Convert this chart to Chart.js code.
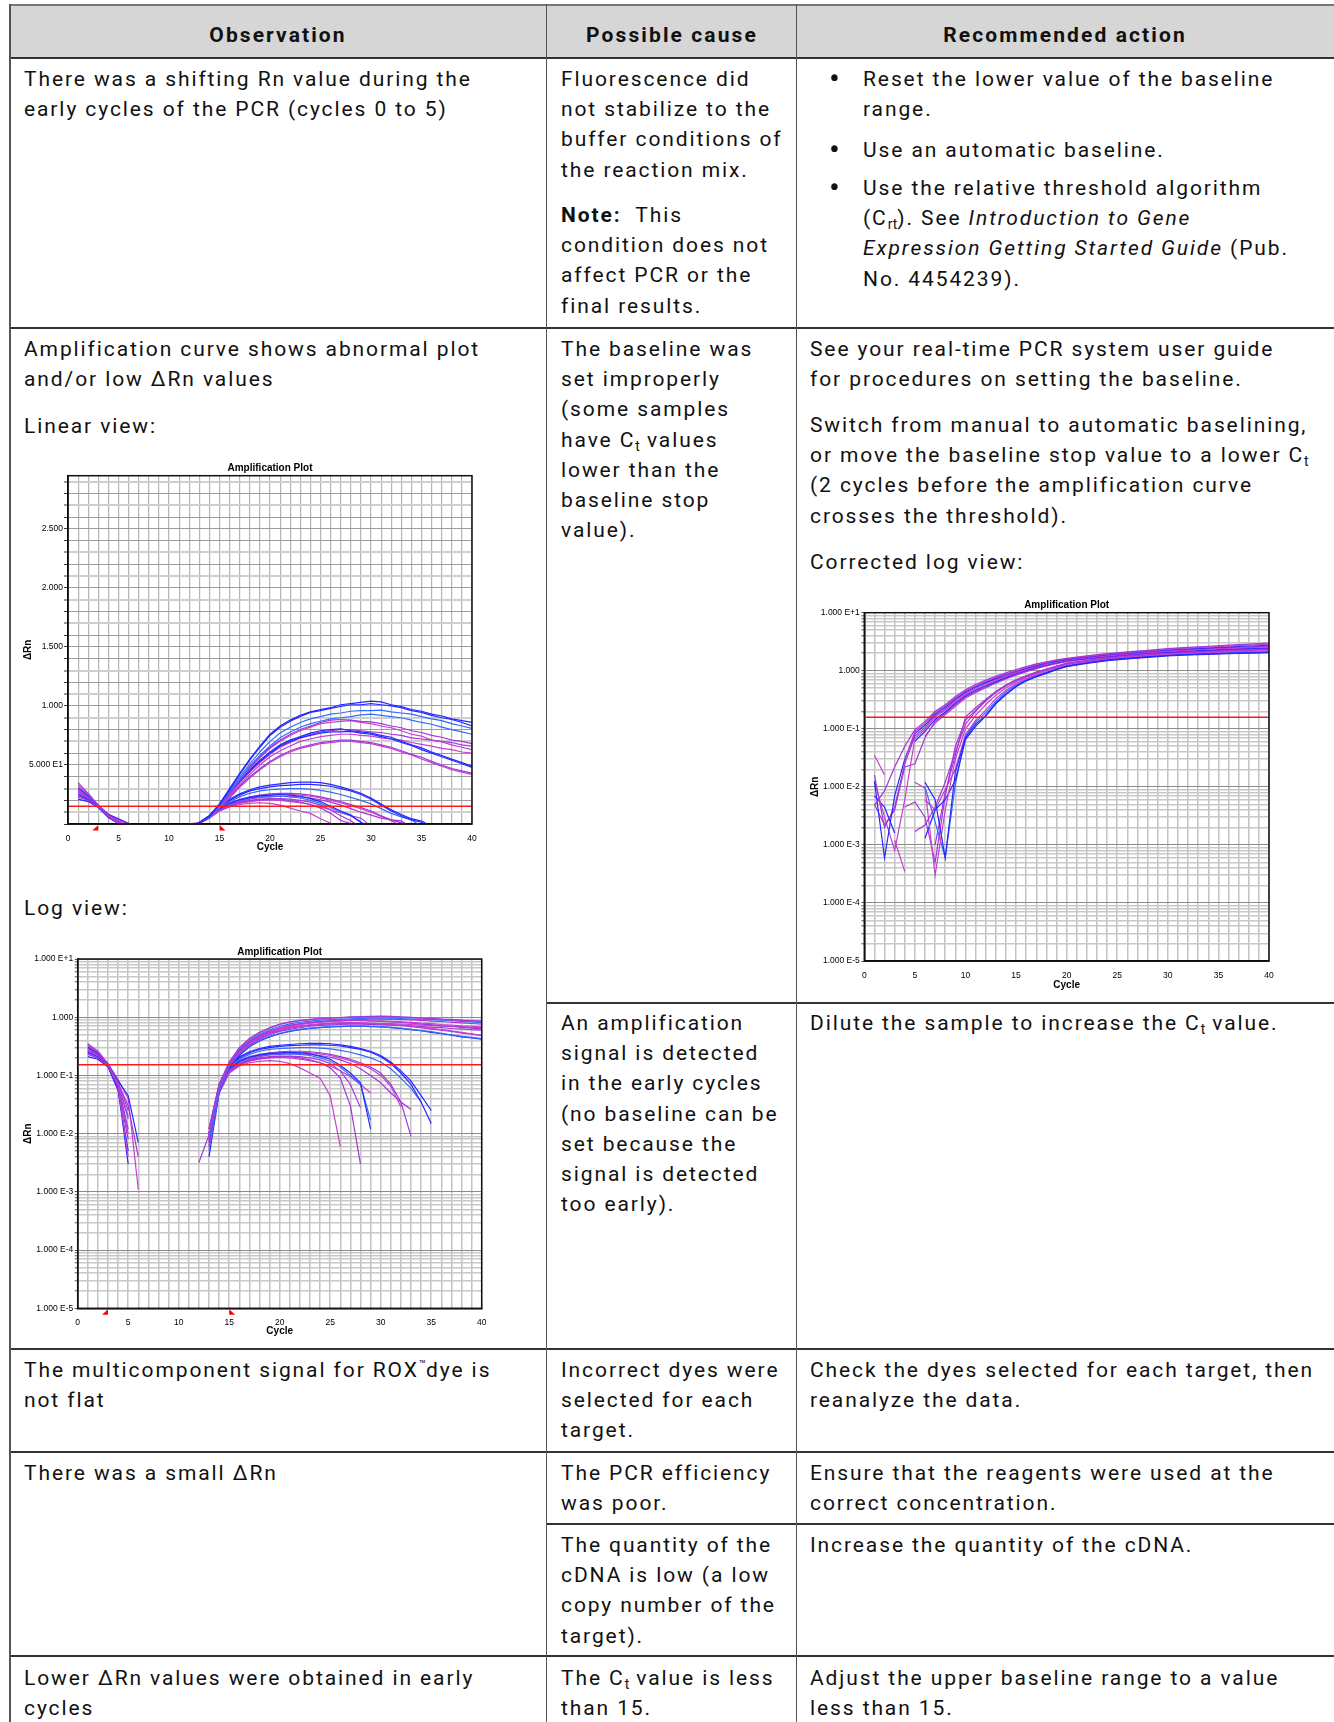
<!DOCTYPE html>
<html><head><meta charset="utf-8">
<script src="https://cdn.jsdelivr.net/npm/chart.js@4.4.1/dist/chart.umd.min.js"></script>
<style>
html,body{margin:0;padding:0;background:#fff;}
body{width:1334px;height:1722px;position:relative;overflow:hidden;font-family:Roboto,"Noto Sans",sans-serif;color:#111;}
.t{position:absolute;font-size:21px;line-height:30.2px;white-space:nowrap;letter-spacing:1.9px;}
.bu{position:absolute;font-size:32px;line-height:30.2px;left:829px;}
.hd{position:absolute;font-size:21px;line-height:30px;font-weight:bold;white-space:nowrap;transform:translateX(-50%);letter-spacing:2.1px;top:20px;}
.ln{position:absolute;background:#333;}
.vl{position:absolute;background:#555;width:1px;top:4px;height:1718px;}
sub{font-size:0.66em;vertical-align:-0.32em;line-height:0;letter-spacing:0;}
sup{font-size:0.55em;vertical-align:0.8em;line-height:0;letter-spacing:0;}
.cv{position:absolute;}
</style>
</head><body>
<!-- header background -->
<div style="position:absolute;left:10px;top:5px;width:1324px;height:53px;background:#d6d6d6;"></div>
<!-- horizontal rules -->
<div class="ln" style="left:10px;top:4px;width:1324px;height:2px;background:#777;"></div>
<div class="ln" style="left:10px;top:57px;width:1324px;height:2px;"></div>
<div class="ln" style="left:10px;top:327px;width:1324px;height:2px;"></div>
<div class="ln" style="left:547px;top:1002px;width:787px;height:2px;"></div>
<div class="ln" style="left:10px;top:1348px;width:1324px;height:2px;"></div>
<div class="ln" style="left:10px;top:1451px;width:1324px;height:2px;"></div>
<div class="ln" style="left:547px;top:1523px;width:787px;height:2px;"></div>
<div class="ln" style="left:10px;top:1655px;width:1324px;height:2px;"></div>
<!-- vertical rules -->
<div class="vl" style="left:9px;width:1.5px;"></div>
<div class="vl" style="left:546px;"></div>
<div class="vl" style="left:796px;"></div>

<!-- header -->
<div class="hd" style="left:278px;">Observation</div>
<div class="hd" style="left:672px;">Possible cause</div>
<div class="hd" style="left:1065px;">Recommended action</div>

<!-- row 1 -->
<div class="t" style="left:24px;top:64px;">There was a shifting Rn value during the<br>early cycles of the PCR (cycles 0 to 5)</div>
<div class="t" style="left:561px;top:64px;">Fluorescence did<br>not stabilize to the<br>buffer conditions of<br>the reaction mix.</div>
<div class="t" style="left:561px;top:200px;"><b>Note:</b>&nbsp; This<br>condition does not<br>affect PCR or the<br>final results.</div>
<div class="bu" style="top:63px;">•</div>
<div class="t" style="left:863px;top:64px;">Reset the lower value of the baseline<br>range.</div>
<div class="bu" style="top:134px;">•</div>
<div class="t" style="left:863px;top:135px;">Use an automatic baseline.</div>
<div class="bu" style="top:172px;">•</div>
<div class="t" style="left:863px;top:173px;">Use the relative threshold algorithm<br>(C<sub>rt</sub>). See <i>Introduction to Gene</i><br><i>Expression Getting Started Guide</i> (Pub.<br>No. 4454239).</div>

<!-- row 2 -->
<div class="t" style="left:24px;top:334px;">Amplification curve shows abnormal plot<br>and/or low ΔRn values</div>
<div class="t" style="left:24px;top:411px;">Linear view:</div>
<div class="t" style="left:24px;top:893px;">Log view:</div>
<div class="t" style="left:561px;top:334px;">The baseline was<br>set improperly<br>(some samples<br>have C<sub>t</sub> values<br>lower than the<br>baseline stop<br>value).</div>
<div class="t" style="left:810px;top:334px;">See your real-time PCR system user guide<br>for procedures on setting the baseline.</div>
<div class="t" style="left:810px;top:410px;">Switch from manual to automatic baselining,<br>or move the baseline stop value to a lower C<sub>t</sub><br>(2 cycles before the amplification curve<br>crosses the threshold).</div>
<div class="t" style="left:810px;top:547px;">Corrected log view:</div>
<div class="t" style="left:561px;top:1008px;">An amplification<br>signal is detected<br>in the early cycles<br>(no baseline can be<br>set because the<br>signal is detected<br>too early).</div>
<div class="t" style="left:810px;top:1008px;">Dilute the sample to increase the C<sub>t</sub> value.</div>

<!-- row 3 -->
<div class="t" style="left:24px;top:1355px;">The multicomponent signal for ROX<sup>™</sup>dye is<br>not flat</div>
<div class="t" style="left:561px;top:1355px;">Incorrect dyes were<br>selected for each<br>target.</div>
<div class="t" style="left:810px;top:1355px;">Check the dyes selected for each target, then<br>reanalyze the data.</div>

<!-- row 4 -->
<div class="t" style="left:24px;top:1458px;">There was a small ΔRn</div>
<div class="t" style="left:561px;top:1458px;">The PCR efficiency<br>was poor.</div>
<div class="t" style="left:810px;top:1458px;">Ensure that the reagents were used at the<br>correct concentration.</div>
<div class="t" style="left:561px;top:1530px;">The quantity of the<br>cDNA is low (a low<br>copy number of the<br>target).</div>
<div class="t" style="left:810px;top:1530px;">Increase the quantity of the cDNA.</div>

<!-- row 5 -->
<div class="t" style="left:24px;top:1663px;">Lower ΔRn values were obtained in early<br>cycles</div>
<div class="t" style="left:561px;top:1663px;">The C<sub>t</sub> value is less<br>than 15.</div>
<div class="t" style="left:810px;top:1663px;">Adjust the upper baseline range to a value<br>less than 15.</div>

<!-- charts -->
<div class="cv" style="left:10px;top:455px;"><canvas id="linChart" width="478" height="400"></canvas></div>
<div class="cv" style="left:10px;top:940px;"><canvas id="logChart" width="488" height="400"></canvas></div>
<div class="cv" style="left:800px;top:585px;"><canvas id="corChart" width="485" height="410"></canvas></div>

<script>
// ---------- axis labels ----------
const cycleLabels = [0, 5, 10, 15, 20, 25, 30, 35, 40];
const linTickValues = [0.5, 1, 1.5, 2, 2.5];
const linTickLabels = ['5.000 E1', '1.000', '1.500', '2.000', '2.500'];
const logDecades = [-5, -4, -3, -2, -1, 0, 1];
const logTickLabels = ['1.000 E-5', '1.000 E-4', '1.000 E-3', '1.000 E-2', '1.000 E-1', '1.000', '1.000 E+1'];
const baselineStart = 3;
const baselineStop = 15;
const thresholdLinear = 0.15;
const thresholdLog = 0.153;
const thresholdCorrected = 0.158;

// ---------- uncorrected run (linear + log views), ΔRn ----------
const earlyCycles = [1, 2, 3, 4, 5, 6, 7];
const earlyRn = [
  [0.35, 0.26, 0.16, 0.075, 0.03, 0.004, -0.03],
  [0.33, 0.25, 0.155, 0.07, 0.02, -0.02],
  [0.31, 0.24, 0.155, 0.08, 0.045, 0.007, -0.03],
  [0.29, 0.23, 0.15, 0.07, 0.012, -0.03],
  [0.27, 0.22, 0.15, 0.065, 0.004, -0.04],
  [0.25, 0.21, 0.15, 0.06, 0.003, -0.04],
  [0.23, 0.2, 0.145, 0.06, 0.008, -0.03],
  [0.21, 0.19, 0.14, 0.055, 0.005, -0.03],
  [0.3, 0.235, 0.16, 0.085, 0.04, 0.0011, -0.02],
  [0.28, 0.225, 0.155, 0.075, 0.025, -0.02],
  [0.26, 0.215, 0.15, 0.07, 0.018, -0.03],
  [0.24, 0.2, 0.145, 0.065, 0.01, -0.03]
];
const lateCycles = [12, 13, 14, 15, 16, 17, 18, 19, 20, 21, 22, 23, 24, 25, 26, 27, 28, 29, 30, 31, 32, 33, 34, 35, 36, 37, 38, 39, 40];
const lateRnHigh = [
  [-0.02, 0.012, 0.07, 0.17, 0.30, 0.43, 0.55, 0.66, 0.76, 0.83, 0.88, 0.92, 0.95, 0.97, 0.985, 1.01, 1.02, 1.03, 1.04, 1.035, 1.01, 0.995, 0.97, 0.955, 0.93, 0.915, 0.89, 0.875, 0.86],
  [-0.02, 0.01, 0.065, 0.165, 0.29, 0.42, 0.54, 0.65, 0.75, 0.82, 0.87, 0.91, 0.945, 0.96, 0.98, 0.995, 1.01, 1.01, 1.02, 1.01, 1.0, 0.985, 0.96, 0.945, 0.92, 0.9, 0.885, 0.86, 0.83],
  [-0.03, 0.008, 0.06, 0.16, 0.28, 0.40, 0.51, 0.61, 0.70, 0.77, 0.82, 0.86, 0.89, 0.91, 0.93, 0.94, 0.955, 0.96, 0.96, 0.965, 0.95, 0.94, 0.93, 0.91, 0.89, 0.875, 0.85, 0.83, 0.81],
  [-0.03, 0.007, 0.06, 0.155, 0.27, 0.38, 0.49, 0.58, 0.66, 0.73, 0.78, 0.82, 0.85, 0.87, 0.89, 0.90, 0.91, 0.925, 0.93, 0.92, 0.91, 0.90, 0.88, 0.86, 0.845, 0.82, 0.80, 0.78, 0.76],
  [-0.02, 0.009, 0.065, 0.16, 0.27, 0.38, 0.48, 0.57, 0.65, 0.71, 0.76, 0.80, 0.83, 0.86, 0.88, 0.885, 0.88, 0.87, 0.865, 0.85, 0.83, 0.815, 0.79, 0.775, 0.75, 0.735, 0.71, 0.70, 0.68],
  [-0.03, 0.006, 0.06, 0.155, 0.26, 0.37, 0.47, 0.56, 0.64, 0.70, 0.75, 0.79, 0.82, 0.85, 0.86, 0.87, 0.875, 0.86, 0.85, 0.83, 0.815, 0.79, 0.76, 0.745, 0.71, 0.695, 0.67, 0.65, 0.63],
  [-0.02, 0.01, 0.07, 0.165, 0.27, 0.37, 0.46, 0.54, 0.61, 0.67, 0.71, 0.74, 0.77, 0.79, 0.80, 0.805, 0.79, 0.78, 0.77, 0.75, 0.735, 0.70, 0.67, 0.645, 0.61, 0.58, 0.55, 0.52, 0.49],
  [-0.03, 0.008, 0.065, 0.16, 0.26, 0.36, 0.45, 0.53, 0.60, 0.66, 0.70, 0.73, 0.75, 0.77, 0.78, 0.78, 0.785, 0.77, 0.76, 0.74, 0.72, 0.69, 0.665, 0.63, 0.60, 0.57, 0.54, 0.51, 0.48],
  [-0.02, 0.008, 0.06, 0.15, 0.25, 0.35, 0.44, 0.52, 0.59, 0.65, 0.69, 0.73, 0.76, 0.78, 0.79, 0.80, 0.80, 0.79, 0.78, 0.775, 0.76, 0.75, 0.73, 0.72, 0.71, 0.70, 0.69, 0.67, 0.66],
  [0.0032, 0.0095, 0.055, 0.145, 0.24, 0.33, 0.42, 0.50, 0.57, 0.62, 0.66, 0.70, 0.72, 0.74, 0.75, 0.76, 0.76, 0.75, 0.745, 0.73, 0.72, 0.71, 0.69, 0.675, 0.66, 0.64, 0.63, 0.61, 0.60],
  [-0.03, 0.005, 0.05, 0.14, 0.23, 0.32, 0.40, 0.47, 0.53, 0.58, 0.62, 0.65, 0.67, 0.69, 0.70, 0.71, 0.71, 0.70, 0.69, 0.67, 0.65, 0.62, 0.59, 0.565, 0.53, 0.50, 0.47, 0.45, 0.43],
  [-0.04, 0.004, 0.05, 0.135, 0.22, 0.31, 0.39, 0.46, 0.52, 0.57, 0.61, 0.64, 0.66, 0.68, 0.69, 0.70, 0.70, 0.69, 0.68, 0.66, 0.64, 0.61, 0.585, 0.55, 0.52, 0.49, 0.46, 0.44, 0.42]
];
const lateRnLow = [
  [-0.02, 0.012, 0.07, 0.15, 0.21, 0.255, 0.29, 0.315, 0.33, 0.34, 0.35, 0.355, 0.355, 0.35, 0.335, 0.315, 0.29, 0.26, 0.22, 0.17, 0.12, 0.08, 0.045, 0.025, -0.02],
  [-0.02, 0.01, 0.065, 0.145, 0.2, 0.245, 0.28, 0.3, 0.315, 0.325, 0.33, 0.335, 0.335, 0.33, 0.32, 0.3, 0.28, 0.25, 0.21, 0.16, 0.11, 0.07, 0.035, 0.015, -0.03],
  [-0.03, 0.01, 0.065, 0.14, 0.19, 0.23, 0.26, 0.28, 0.29, 0.295, 0.3, 0.3, 0.295, 0.285, 0.27, 0.25, 0.225, 0.2, 0.17, 0.13, 0.09, 0.06, 0.035, -0.02],
  [-0.02, 0.01, 0.065, 0.13, 0.175, 0.205, 0.225, 0.24, 0.245, 0.25, 0.245, 0.235, 0.215, 0.19, 0.15, 0.11, 0.075, 0.012, -0.04],
  [-0.03, 0.008, 0.06, 0.125, 0.17, 0.2, 0.22, 0.23, 0.235, 0.235, 0.23, 0.22, 0.2, 0.175, 0.14, 0.1, 0.07, 0.017, -0.03],
  [-0.02, 0.01, 0.06, 0.13, 0.18, 0.21, 0.23, 0.245, 0.255, 0.26, 0.26, 0.255, 0.245, 0.23, 0.21, 0.19, 0.165, 0.14, 0.11, 0.07, 0.035, 0.009, -0.03],
  [-0.03, 0.007, 0.055, 0.125, 0.17, 0.2, 0.22, 0.235, 0.245, 0.25, 0.25, 0.245, 0.235, 0.22, 0.2, 0.18, 0.155, 0.13, 0.1, 0.065, 0.029, -0.02],
  [-0.02, 0.009, 0.06, 0.12, 0.16, 0.19, 0.21, 0.225, 0.23, 0.235, 0.235, 0.23, 0.22, 0.205, 0.185, 0.16, 0.13, 0.1, 0.075, 0.05, 0.035, 0.026, -0.03],
  [-0.03, 0.006, 0.05, 0.11, 0.145, 0.165, 0.175, 0.18, 0.175, 0.16, 0.135, 0.11, 0.09, 0.045, 0.006, -0.04],
  [-0.02, 0.008, 0.055, 0.115, 0.155, 0.18, 0.195, 0.205, 0.21, 0.21, 0.2, 0.185, 0.165, 0.135, 0.09, 0.03, 0.003, -0.04],
  [-0.03, 0.007, 0.05, 0.11, 0.15, 0.175, 0.19, 0.2, 0.205, 0.2, 0.19, 0.18, 0.165, 0.145, 0.12, 0.095, 0.07, 0.05, -0.02],
  [-0.02, 0.009, 0.055, 0.12, 0.16, 0.185, 0.2, 0.21, 0.215, 0.215, 0.21, 0.2, 0.185, 0.16, 0.12, 0.07, 0.028, -0.03]
];

// ---------- corrected run (log view), ΔRn ----------
const corCycles = [1, 2, 3, 4, 5, 6, 7, 8, 9, 10, 11, 12, 13, 14, 15, 16, 17, 18, 19, 20, 22, 24, 26, 28, 30, 32, 34, 36, 38, 40];
const corRnEarly = [
  [0.0048, 0.0085, 0.022, 0.05, 0.097, 0.134, 0.2, 0.26, 0.36, 0.47, 0.58, 0.69, 0.8, 0.92, 1.05, 1.18, 1.31, 1.43, 1.54, 1.64, 1.8, 1.98, 2.12, 2.25, 2.4, 2.52, 2.64, 2.76, 2.88, 3.0],
  [0.035, 0.016, null, 0.028, 0.09, 0.125, 0.19, 0.247, 0.34, 0.45, 0.55, 0.66, 0.77, 0.88, 1.0, 1.13, 1.27, 1.39, 1.5, 1.61, 1.77, 1.94, 2.07, 2.2, 2.33, 2.45, 2.56, 2.66, 2.76, 2.86],
  [0.0125, 0.0006, 0.007, 0.03, 0.083, 0.116, 0.18, 0.235, 0.325, 0.43, 0.53, 0.63, 0.74, 0.86, 0.98, 1.11, 1.24, 1.36, 1.47, 1.58, 1.73, 1.89, 2.02, 2.15, 2.28, 2.38, 2.48, 2.58, 2.67, 2.75],
  [0.016, 0.002, 0.0045, 0.025, 0.075, 0.106, 0.17, 0.22, 0.31, 0.41, 0.51, 0.61, 0.71, 0.83, 0.95, 1.08, 1.2, 1.32, 1.44, 1.55, 1.7, 1.85, 1.98, 2.1, 2.22, 2.32, 2.42, 2.5, 2.58, 2.66],
  [0.0125, 0.003, 0.0008, 0.006, 0.068, 0.098, 0.16, 0.21, 0.29, 0.39, 0.48, 0.58, 0.68, 0.8, 0.92, 1.04, 1.17, 1.29, 1.41, 1.52, 1.67, 1.8, 1.93, 2.05, 2.16, 2.26, 2.35, 2.43, 2.5, 2.57],
  [0.007, 0.0045, 0.0016, null, 0.061, 0.09, 0.145, 0.195, 0.275, 0.37, 0.46, 0.55, 0.65, 0.77, 0.89, 1.01, 1.14, 1.26, 1.38, 1.49, 1.63, 1.76, 1.89, 2.0, 2.1, 2.19, 2.27, 2.35, 2.42, 2.48],
  [0.005, 0.0022, 0.004, 0.022, 0.025, 0.07, 0.135, 0.185, 0.26, 0.355, 0.44, 0.52, 0.62, 0.74, 0.86, 0.98, 1.11, 1.23, 1.35, 1.46, 1.6, 1.72, 1.84, 1.95, 2.04, 2.12, 2.2, 2.26, 2.32, 2.38],
  [null, null, 0.0012, 0.00035, null, 0.074, 0.126, 0.175, 0.245, 0.34, 0.42, 0.51, 0.61, 0.72, 0.84, 0.96, 1.09, 1.21, 1.33, 1.44, 1.58, 1.7, 1.82, 1.92, 2.0, 2.07, 2.14, 2.2, 2.25, 2.3]
];
const corRnLate = [
  [null, null, null, null, null, 0.012, 0.006, 0.0006, 0.018, 0.07, 0.12, 0.17, 0.28, 0.4, 0.54, 0.68, 0.8, 0.92, 1.06, 1.2, 1.36, 1.52, 1.63, 1.73, 1.83, 1.9, 1.95, 2.0, 2.04, 2.08],
  [null, null, null, null, 0.0017, 0.0022, 0.0045, 0.012, 0.04, 0.12, 0.2, 0.3, 0.42, 0.55, 0.68, 0.8, 0.93, 1.05, 1.18, 1.32, 1.48, 1.65, 1.78, 1.9, 1.99, 2.07, 2.15, 2.22, 2.28, 2.35],
  [null, null, null, null, 0.012, 0.0095, 0.0003, 0.004, 0.03, 0.1, 0.17, 0.26, 0.38, 0.51, 0.64, 0.77, 0.89, 1.01, 1.14, 1.28, 1.45, 1.62, 1.75, 1.86, 1.96, 2.04, 2.12, 2.19, 2.25, 2.31],
  [null, null, null, null, null, 0.0013, 0.004, 0.006, 0.013, 0.065, 0.11, 0.165, 0.27, 0.39, 0.53, 0.67, 0.79, 0.9, 1.04, 1.18, 1.34, 1.49, 1.6, 1.7, 1.8, 1.87, 1.92, 1.97, 2.01, 2.05],
  [null, null, null, 0.0045, 0.0055, 0.003, 0.0005, 0.007, 0.05, 0.14, 0.21, 0.31, 0.43, 0.56, 0.69, 0.81, 0.94, 1.06, 1.19, 1.33, 1.49, 1.66, 1.79, 1.91, 2.0, 2.08, 2.16, 2.24, 2.31, 2.38],
  [null, null, null, null, null, 0.006, 0.004, 0.009, 0.02, 0.08, 0.14, 0.21, 0.33, 0.46, 0.6, 0.73, 0.85, 0.97, 1.1, 1.24, 1.4, 1.57, 1.7, 1.8, 1.9, 1.98, 2.05, 2.11, 2.16, 2.21],
  [null, null, null, null, null, 0.01, 0.0025, 0.0006, 0.011, 0.075, 0.13, 0.19, 0.3, 0.43, 0.57, 0.7, 0.82, 0.94, 1.08, 1.22, 1.38, 1.54, 1.66, 1.77, 1.86, 1.94, 2.0, 2.06, 2.1, 2.14],
  [null, null, null, null, null, null, 0.001, 0.008, 0.035, 0.16, 0.23, 0.32, 0.44, 0.57, 0.7, 0.82, 0.95, 1.07, 1.2, 1.35, 1.5, 1.68, 1.8, 1.92, 2.02, 2.12, 2.2, 2.28, 2.36, 2.44]
];

// ---------- colours ----------
const B = '#2626ff', B2 = '#2f6dff', P = '#a437d8', M = '#c43fd0';
const earlyColors = [P, M, B, P, M, B, P, B, M, P, B2, M];
const highColorsLin = [B, B, B2, B2, P, M, B, B, P, M, P, M];
const highColorsLog = [P, M, B2, P, M, P, M, P, M, P, B2, B];
const lowColors = [B, B, B2, B, B2, P, M, P, M, P, M, P];
const corEarlyColors = [P, M, B, P, M, B, P, M];
const corLateColors = [B, P, M, B, P, M, B2, P];

// ---------- helpers ----------
const cycleTicks = Array.from({length: 41}, (_, i) => i);
const linGridValues = Array.from({length: 30}, (_, i) => Math.round(i) / 10);
const logGridValues = [];
for (let e = -5; e <= 0; e++) for (let k = 1; k <= 9; k++) logGridValues.push(Number((k * Math.pow(10, e)).toPrecision(6)));
logGridValues.push(10);

function series(xs, ys, color, log) {
  const pts = [];
  for (let i = 0; i < ys.length && i < xs.length; i++) {
    let v = ys[i];
    if (log && v !== null && v <= 0) v = null;
    pts.push({x: xs[i], y: v});
  }
  return {data: pts, borderColor: color, borderWidth: 1.2, pointRadius: 0, fill: false, tension: 0, order: 1, spanGaps: false};
}
function threshold(v) {
  return {data: [{x: 0, y: v}, {x: 40, y: v}], borderColor: '#ff1a1a', borderWidth: 1.4, pointRadius: 0, order: 0};
}

const framePlugin = {
  id: 'frame',
  afterDatasetsDraw(chart, args, opts) {
    const {ctx, chartArea: a} = chart;
    ctx.save();
    ctx.strokeStyle = '#111';
    ctx.lineWidth = 1.5;
    ctx.strokeRect(a.left, a.top, a.right - a.left, a.bottom - a.top);
    ctx.fillStyle = '#000';
    ctx.font = 'bold 10px "Liberation Sans", Arial, sans-serif';
    ctx.textAlign = 'center';
    ctx.textBaseline = 'middle';
    ctx.fillText('Amplification Plot', (a.left + a.right) / 2, a.top - 7);
    if (opts.markers) {
      const xs = chart.scales.x, b = a.bottom;
      ctx.fillStyle = '#ff0000';
      let px = xs.getPixelForValue(baselineStart);
      ctx.beginPath(); ctx.moveTo(px, b + 1); ctx.lineTo(px, b + 6.5); ctx.lineTo(px - 6, b + 6.5); ctx.closePath(); ctx.fill();
      px = xs.getPixelForValue(baselineStop);
      ctx.beginPath(); ctx.moveTo(px, b + 1); ctx.lineTo(px, b + 6.5); ctx.lineTo(px + 6, b + 6.5); ctx.closePath(); ctx.fill();
    }
    ctx.restore();
  }
};

Chart.defaults.font.family = '"Liberation Sans", Arial, sans-serif';
Chart.defaults.color = '#000';

function xScale(cfg) {
  return {
    type: 'linear', min: 0, max: 40,
    afterBuildTicks: s => { s.ticks = cycleTicks.map(v => ({value: v})); },
    afterFit: s => { s.height = cfg.xh; },
    ticks: {autoSkip: false, maxRotation: 0, padding: cfg.xpad, font: {size: 8.5}, color: '#000',
      callback: v => cycleLabels.includes(v) ? String(v) : ''},
    grid: {drawTicks: false, color: cfg.vColor, lineWidth: cfg.vWidth},
    border: {display: true, color: '#000', width: 1.5},
    title: {display: true, text: 'Cycle', font: {size: 10, weight: 'bold'}, color: '#000', padding: {top: 0, bottom: cfg.cyclePad}}
  };
}
function yTitle(pad) {
  return {display: true, text: 'ΔRn', font: {size: 10, weight: 'bold'}, color: '#000', padding: {top: pad, bottom: 0}};
}
function logY(cfg) {
  return {
    type: 'logarithmic', min: 1e-5, max: 10,
    afterBuildTicks: s => { s.ticks = logGridValues.map(v => ({value: v})); },
    afterFit: s => { s.width = cfg.yw; },
    ticks: {autoSkip: false, padding: 1.5, font: {size: 8.5}, color: '#000',
      callback: v => {
        const e = Math.log10(v), r = Math.round(e);
        if (Math.abs(e - r) < 1e-6) { const i = logDecades.indexOf(r); return i >= 0 ? logTickLabels[i] : ''; }
        return '';
      }},
    grid: {
      color: c => { const e = Math.log10(c.tick.value); return Math.abs(e - Math.round(e)) < 1e-6 ? '#8a8a8a' : '#c8c8c8'; },
      lineWidth: c => { const e = Math.log10(c.tick.value); return Math.abs(e - Math.round(e)) < 1e-6 ? 1 : 1.6; },
      tickLength: 3, tickColor: '#333', tickWidth: 0.8
    },
    border: {display: true, color: '#000', width: 1.5},
    title: yTitle(cfg.titlePad)
  };
}
function common(pad, markers) {
  return {
    responsive: false, animation: false, events: [], devicePixelRatio: 1,
    layout: {padding: pad},
    plugins: {legend: {display: false}, tooltip: {enabled: false}, title: {display: false}, frame: {markers}},
  };
}

// ---------- linear view ----------
{
  const ds = [threshold(thresholdLinear)];
  earlyRn.forEach((r, i) => ds.push(series(earlyCycles, r, earlyColors[i], false)));
  lateRnHigh.forEach((r, i) => ds.push(series(lateCycles, r, highColorsLin[i], false)));
  lateRnLow.forEach((r, i) => ds.push(series(lateCycles, r, lowColors[i], false)));
  const o = common({left: 0, right: 16, top: 20.7, bottom: 0}, true);
  o.scales = {
    x: xScale({xh: 31, xpad: 10, cyclePad: 1.3, vColor: '#b4b4b4', vWidth: 1.2}),
    y: {
      type: 'linear', min: 0, max: 2.95,
      afterBuildTicks: s => { s.ticks = linGridValues.map(v => ({value: v})); },
      afterFit: s => { s.width = 58; },
      ticks: {autoSkip: false, padding: 1, font: {size: 8.5}, color: '#000',
        callback: v => { const i = linTickValues.findIndex(t => Math.abs(t - v) < 1e-6); return i >= 0 ? linTickLabels[i] : ''; }},
      grid: {
        color: c => { const k = Math.round(c.tick.value * 10); return (k % 5 === 0 || k % 2 === 0) ? '#9c9c9c' : '#cfcfcf'; },
        lineWidth: c => { const k = Math.round(c.tick.value * 10); return (k % 5 === 0 || k % 2 === 0) ? 1 : 2; },
        tickLength: 4, tickColor: '#000', tickWidth: 0.8
      },
      border: {display: true, color: '#000', width: 1.5},
      title: yTitle(12)
    }
  };
  new Chart(document.getElementById('linChart'), {type: 'line', data: {datasets: ds}, options: o, plugins: [framePlugin]});
}

// ---------- log view ----------
{
  const ds = [threshold(thresholdLog)];
  earlyRn.forEach((r, i) => ds.push(series(earlyCycles, r, earlyColors[i], true)));
  lateRnHigh.forEach((r, i) => ds.push(series(lateCycles, r, highColorsLog[i], true)));
  lateRnLow.forEach((r, i) => ds.push(series(lateCycles, r, lowColors[i], true)));
  const o = common({left: 0, right: 16.3, top: 19, bottom: 0}, true);
  o.scales = {
    x: xScale({xh: 31.7, xpad: 9, cyclePad: 2.3, vColor: '#c2c2c2', vWidth: 1.5}),
    y: logY({yw: 67.7, titlePad: 12})
  };
  new Chart(document.getElementById('logChart'), {type: 'line', data: {datasets: ds}, options: o, plugins: [framePlugin]});
}

// ---------- corrected log view ----------
{
  const ds = [threshold(thresholdCorrected)];
  corRnEarly.forEach((r, i) => ds.push(series(corCycles, r, corEarlyColors[i], true)));
  corRnLate.forEach((r, i) => ds.push(series(corCycles, r, corLateColors[i], true)));
  const o = common({left: 0, right: 16, top: 27.7, bottom: 0}, false);
  o.scales = {
    x: xScale({xh: 34, xpad: 9.6, cyclePad: 4, vColor: '#c2c2c2', vWidth: 1.5}),
    y: logY({yw: 64.3, titlePad: 9})
  };
  new Chart(document.getElementById('corChart'), {type: 'line', data: {datasets: ds}, options: o, plugins: [framePlugin]});
}
</script>
</body></html>
